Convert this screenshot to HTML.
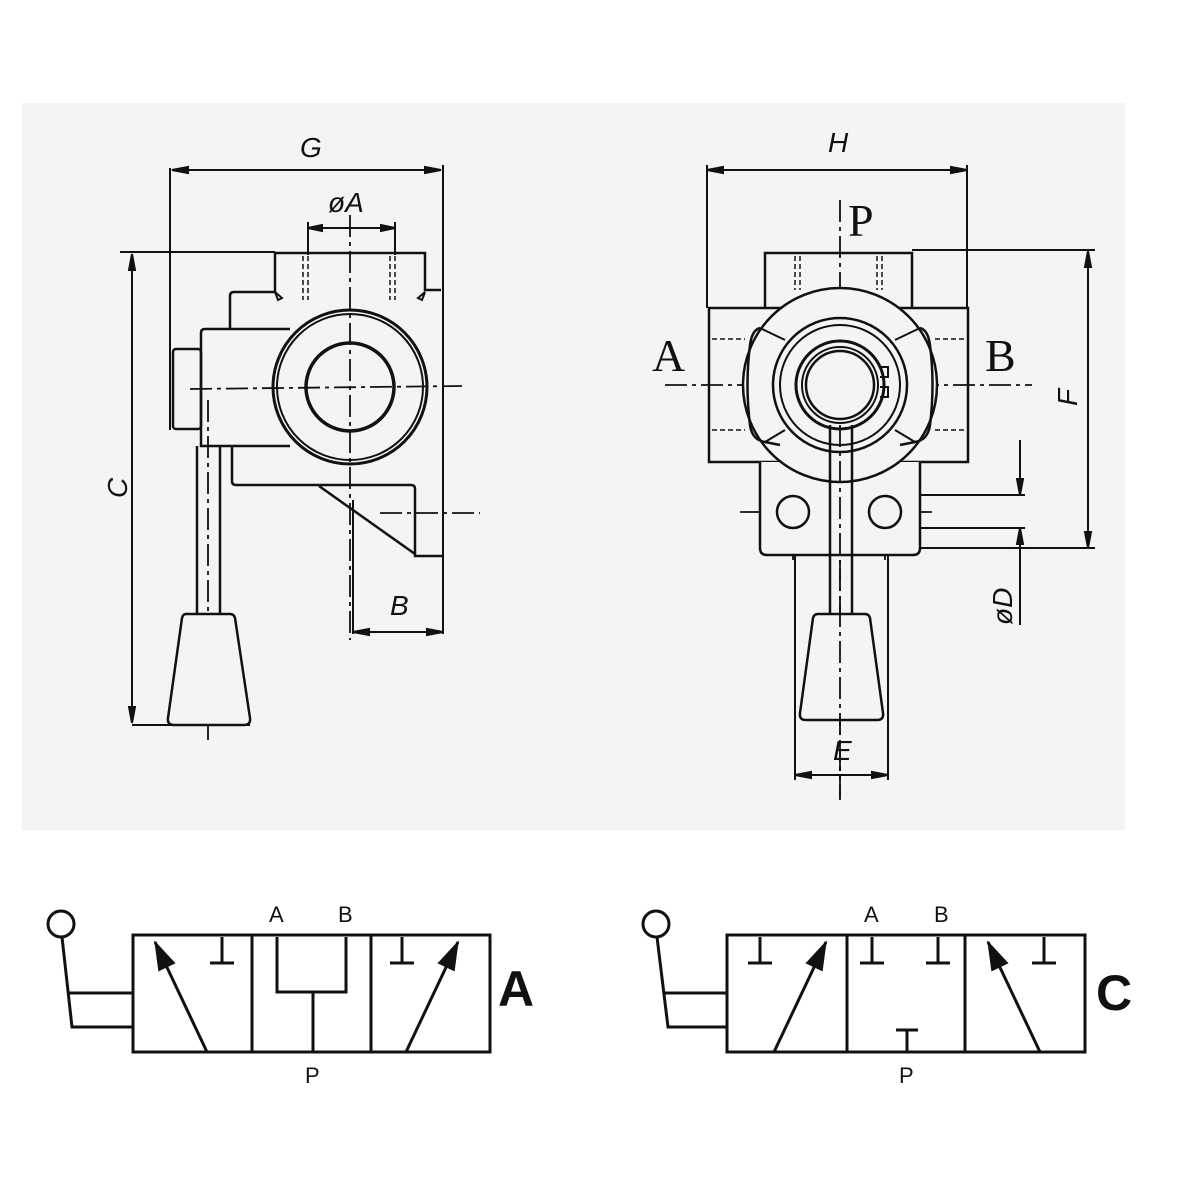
<!DOCTYPE html>
<html><head><meta charset="utf-8"><style>
html,body{margin:0;padding:0;background:#fff}
svg{display:block}
.it{font-family:"Liberation Sans",sans-serif;font-style:italic;font-size:28px;fill:#111}
.sr{font-family:"Liberation Serif",serif;font-size:46px;fill:#111}
.sy{font-family:"Liberation Sans","DejaVu Sans",sans-serif;font-size:22px;fill:#111}
</style></head><body>
<svg width="1200" height="1200" viewBox="0 0 1200 1200" xmlns="http://www.w3.org/2000/svg">
<defs>
<marker id="ar2" viewBox="0 0 16 10" refX="15" refY="5" markerWidth="30" markerHeight="19" orient="auto" markerUnits="userSpaceOnUse" preserveAspectRatio="none"><path d="M0,0 L16,5 L0,10z" fill="#111"/></marker>
</defs>
<rect x="22" y="103" width="1103" height="727" fill="#f4f4f4"/>
<g stroke="#111" fill="none" stroke-width="2">
<line x1="172" y1="170" x2="441" y2="170"/>
<path d="M172,170 l16,-3 v6z M441,170 l-16,-3 v6z" fill="#111"/>
<line x1="170" y1="168" x2="170" y2="430"/>
<line x1="443" y1="165" x2="443" y2="565"/>
<line x1="308" y1="228" x2="395" y2="228"/>
<path d="M308,228 l14,-3 v6z M395,228 l-14,-3 v6z" fill="#111"/>
<line x1="308" y1="222" x2="308" y2="255"/>
<line x1="395" y1="222" x2="395" y2="255"/>
<line x1="120" y1="252" x2="275" y2="252"/>
<line x1="132" y1="254" x2="132" y2="723"/>
<path d="M132,254 l-3,16 h6z M132,723 l-3,-16 h6z" fill="#111"/>
<line x1="132" y1="725" x2="250" y2="725"/>
<path d="M275,292 V253 H425 V290 H441" stroke-width="2.5"/>
<path d="M275,292 H234 Q230,292 230,296 V329" stroke-width="2.5"/>
<path d="M290,329 H205 Q201,329 201,333 V446 H290" stroke-width="2.5"/>
<rect x="173" y="349" width="28" height="80" rx="3" stroke-width="2.5"/>
<path d="M232,446 V481 Q232,485 236,485 H411 Q415,485 415,489 V556 H443" stroke-width="2.5"/>
<line x1="319" y1="486" x2="415" y2="554" stroke-width="2.5"/>
<line x1="353" y1="500" x2="353" y2="634"/>
<line x1="353" y1="632" x2="443" y2="632"/>
<path d="M353,632 l16,-3 v6z M443,632 l-16,-3 v6z" fill="#111"/>
<line x1="443" y1="560" x2="443" y2="634"/>
<circle cx="350" cy="387" r="77" fill="#f4f4f4" stroke-width="3"/>
<circle cx="350" cy="387" r="73" stroke-width="2"/>
<circle cx="350" cy="387" r="44" stroke-width="3.5"/>
<g stroke-dasharray="5,3" stroke-width="1.5">
<line x1="303" y1="256" x2="303" y2="300"/><line x1="308" y1="256" x2="308" y2="300"/>
<line x1="390" y1="256" x2="390" y2="300"/><line x1="395" y1="256" x2="395" y2="300"/>
</g>
<path d="M275,292 l7,6 l-4,2z M425,292 l-7,6 l4,2z" stroke-width="2"/>
<g stroke-dasharray="22,5,4,5" stroke-width="1.8">
<line x1="190" y1="389" x2="462" y2="386"/>
<line x1="350" y1="215" x2="350" y2="640"/>
<line x1="380" y1="513" x2="480" y2="513"/>
<line x1="208" y1="400" x2="208" y2="740"/>
<line x1="840" y1="200" x2="840" y2="800"/>
<line x1="665" y1="385" x2="1032" y2="385"/>
<line x1="740" y1="512" x2="932" y2="512"/>
<line x1="793" y1="478" x2="793" y2="560"/>
<line x1="885" y1="478" x2="885" y2="560"/>
</g>
<line x1="197" y1="446" x2="197" y2="614" stroke-width="2.5"/>
<line x1="220" y1="446" x2="220" y2="614" stroke-width="2.5"/>
<path d="M186,614 H230 Q234,614 235,618 L250,718 Q251,725 244,725 H174 Q167,725 168,718 L182,618 Q183,614 186,614z" stroke-width="2.5" fill="#f4f4f4"/>

<line x1="707" y1="170" x2="967" y2="170"/>
<path d="M707,170 l16,-3 v6z M967,170 l-16,-3 v6z" fill="#111"/>
<line x1="707" y1="165" x2="707" y2="308"/>
<line x1="967" y1="165" x2="967" y2="308"/>
<line x1="912" y1="250" x2="1095" y2="250"/>
<line x1="1088" y1="251" x2="1088" y2="548"/>
<path d="M1088,251 l-3,16 h6z M1088,548 l-3,-16 h6z" fill="#111"/>
<line x1="920" y1="548" x2="1095" y2="548"/>
<line x1="897" y1="495" x2="1025" y2="495"/>
<line x1="897" y1="528" x2="1025" y2="528"/>
<line x1="1020" y1="440" x2="1020" y2="495"/>
<line x1="1020" y1="528" x2="1020" y2="625"/>
<path d="M1020,495 l-3,-16 h6z M1020,528 l-3,16 h6z" fill="#111"/>
<path d="M765,308 V253 H912 V308" stroke-width="2.5"/>
<rect x="709" y="308" width="259" height="154" stroke-width="2.5"/>
<path d="M760,462 V548 Q760,555 767,555 H913 Q920,555 920,548 V462" stroke-width="2.5" fill="#f4f4f4"/>
<circle cx="793" cy="512" r="16" stroke-width="2.5"/>
<circle cx="885" cy="512" r="16" stroke-width="2.5"/>
<g stroke-dasharray="5,3" stroke-width="1.5">
<line x1="795" y1="256" x2="795" y2="290"/><line x1="800" y1="256" x2="800" y2="290"/>
<line x1="877" y1="256" x2="877" y2="290"/><line x1="882" y1="256" x2="882" y2="290"/>
<line x1="712" y1="339" x2="745" y2="339"/><line x1="935" y1="339" x2="965" y2="339"/>
<line x1="712" y1="430" x2="745" y2="430"/><line x1="935" y1="430" x2="965" y2="430"/>
</g>
<circle cx="840" cy="385" r="97" fill="#f4f4f4" stroke-width="2.5"/>
<path d="M760,328 Q752,330 750,345 Q745,385 750,425 Q752,440 765,442 L780,445 M920,328 Q928,330 930,345 Q935,385 930,425 Q928,440 915,442 L900,445" stroke-width="2.5"/>
<path d="M760,328 L785,340 M920,328 L895,340 M765,442 L785,430 M915,442 L895,430" stroke-width="2"/>
<circle cx="840" cy="385" r="67" stroke-width="2.5"/>
<circle cx="840" cy="385" r="60" stroke-width="2"/>
<circle cx="840" cy="385" r="44" stroke-width="3"/>
<circle cx="840" cy="385" r="38" stroke-width="2"/>
<circle cx="840" cy="385" r="34" stroke-width="2.5"/>
<path d="M880,367 h8 v10 h-8 M880,397 h8 v-10 h-8" stroke-width="2"/>
<line x1="830" y1="425" x2="830" y2="614" stroke-width="2.5"/>
<line x1="852" y1="425" x2="852" y2="614" stroke-width="2.5"/>
<path d="M818,614 H865 Q869,614 870,618 L883,713 Q884,720 877,720 H806 Q799,720 800,713 L813,618 Q814,614 818,614z" stroke-width="2.5" fill="#f4f4f4"/>
<line x1="795" y1="555" x2="795" y2="780"/>
<line x1="888" y1="555" x2="888" y2="780"/>
<line x1="795" y1="775" x2="888" y2="775"/>
<path d="M795,775 l16,-3 v6z M888,775 l-16,-3 v6z" fill="#111"/>
</g>
<line x1="840" y1="425" x2="840" y2="800" stroke="#111" stroke-width="1.8" stroke-dasharray="22,5,4,5"/>
<text class="it" x="300" y="157">G</text>
<text class="it" x="328" y="212" font-size="25">øA</text>
<text class="it" x="390" y="615">B</text>
<text class="it" x="0" y="0" transform="translate(127,498) rotate(-90)">C</text>
<text class="it" x="828" y="152">H</text>
<text class="it" x="0" y="0" transform="translate(1077,406) rotate(-90)">F</text>
<text class="it" x="0" y="0" transform="translate(1012,625) rotate(-90)">øD</text>
<text class="it" x="833" y="760">E</text>
<text class="sr" x="848" y="236">P</text>
<text class="sr" x="652" y="371">A</text>
<text class="sr" x="985" y="371">B</text>

<g stroke="#111" stroke-width="3" fill="none">
<rect x="133" y="935" width="357" height="117"/>
<line x1="252" y1="935" x2="252" y2="1052"/><line x1="371" y1="935" x2="371" y2="1052"/>
<circle cx="61" cy="924" r="13"/>
<path d="M62,937 L72,1027 H133 M67,993 H133"/>
<line x1="207" y1="1052" x2="155" y2="942" marker-end="url(#ar2)"/>
<path d="M222,937 V963 M210,963 H234"/>
<path d="M277,937 V992 H346 V937 M313,992 V1052"/>
<path d="M402,937 V963 M390,963 H414"/>
<line x1="406" y1="1052" x2="458" y2="942" marker-end="url(#ar2)"/>

<rect x="727" y="935" width="358" height="117"/>
<line x1="847" y1="935" x2="847" y2="1052"/><line x1="965" y1="935" x2="965" y2="1052"/>
<circle cx="656" cy="924" r="13"/>
<path d="M657,937 L668,1027 H727 M663,993 H727"/>
<path d="M760,937 V963 M748,963 H772"/>
<line x1="774" y1="1052" x2="826" y2="942" marker-end="url(#ar2)"/>
<path d="M872,937 V963 M860,963 H884 M938,937 V963 M926,963 H950"/>
<path d="M907,1052 V1030 M896,1030 H918"/>
<line x1="1040" y1="1052" x2="988" y2="942" marker-end="url(#ar2)"/>
<path d="M1044,937 V963 M1032,963 H1056"/>
</g>
<text class="sy" x="269" y="922">A</text>
<text class="sy" x="338" y="922">B</text>
<text class="sy" x="305" y="1083">P</text>
<text class="sy" x="864" y="922">A</text>
<text class="sy" x="934" y="922">B</text>
<text class="sy" x="899" y="1083">P</text>
<text x="498" y="1006" style="font-family:'Liberation Sans',sans-serif;font-weight:bold;font-size:50px;fill:#111">A</text>
<text x="1096" y="1010" style="font-family:'Liberation Sans',sans-serif;font-weight:bold;font-size:50px;fill:#111">C</text>
</svg>
</body></html>
